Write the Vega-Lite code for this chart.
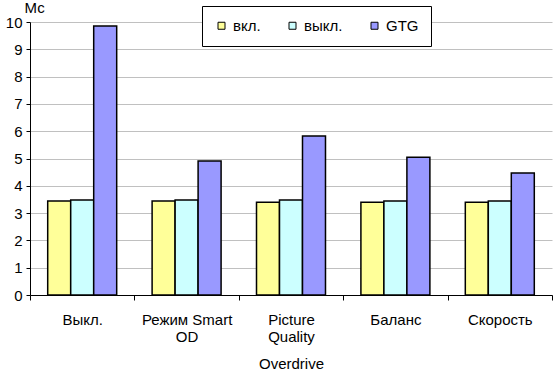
{
  "$schema": "https://vega.github.io/schema/vega-lite/v6.json",
  "width": 522,
  "height": 273,
  "autosize": {"type": "none"},
  "padding": {"left": 30, "top": 22, "right": 1, "bottom": 76},
  "background": "white",
  "config": {
    "font": "Liberation Sans",
    "view": {"stroke": null},
    "axis": {
      "labelFont": "Liberation Sans",
      "titleFont": "Liberation Sans",
      "labelFontSize": 15,
      "titleFontSize": 15,
      "titleFontWeight": "normal",
      "labelColor": "black",
      "titleColor": "black",
      "domainColor": "black",
      "tickColor": "black",
      "domainWidth": 1,
      "tickWidth": 1
    }
  },
  "data": {
    "values": [
      {"mode": "Выкл.", "series": "вкл.", "value": 3.44},
      {"mode": "Выкл.", "series": "выкл.", "value": 3.48},
      {"mode": "Выкл.", "series": "GTG", "value": 9.85},
      {"mode": "Режим Smart OD", "series": "вкл.", "value": 3.44},
      {"mode": "Режим Smart OD", "series": "выкл.", "value": 3.48},
      {"mode": "Режим Smart OD", "series": "GTG", "value": 4.91},
      {"mode": "Picture Quality", "series": "вкл.", "value": 3.40},
      {"mode": "Picture Quality", "series": "выкл.", "value": 3.48},
      {"mode": "Picture Quality", "series": "GTG", "value": 5.82},
      {"mode": "Баланс", "series": "вкл.", "value": 3.40},
      {"mode": "Баланс", "series": "выкл.", "value": 3.44},
      {"mode": "Баланс", "series": "GTG", "value": 5.05},
      {"mode": "Скорость", "series": "вкл.", "value": 3.40},
      {"mode": "Скорость", "series": "выкл.", "value": 3.44},
      {"mode": "Скорость", "series": "GTG", "value": 4.47}
    ]
  },
  "mark": {"type": "bar", "stroke": "black", "strokeWidth": 1.5},
  "encoding": {
    "x": {
      "field": "mode",
      "type": "nominal",
      "sort": null,
      "scale": {"paddingInner": 0, "paddingOuter": 0},
      "axis": {
        "title": "Overdrive",
        "titleBaseline": "alphabetic",
        "titleY": 73,
        "labelAngle": 0,
        "labelPadding": 12,
        "labelLineHeight": 17,
        "labelBaseline": "top",
        "tickBand": "extent",
        "tickSize": 5,
        "grid": false,
        "labelExpr": "datum.value == 'Режим Smart OD' ? ['Режим Smart', 'OD'] : datum.value == 'Picture Quality' ? ['Picture', 'Quality'] : datum.label"
      }
    },
    "xOffset": {
      "field": "series",
      "type": "nominal",
      "sort": ["вкл.", "выкл.", "GTG"],
      "scale": {"paddingInner": 0, "paddingOuter": 0.77}
    },
    "y": {
      "field": "value",
      "type": "quantitative",
      "scale": {"domain": [0, 10], "nice": false},
      "axis": {
        "title": "Мс",
        "titleAngle": 0,
        "titleAlign": "left",
        "titleBaseline": "alphabetic",
        "titleX": -6,
        "titleY": -10,
        "values": [0, 1, 2, 3, 4, 5, 6, 7, 8, 9, 10],
        "tickSize": 4,
        "labelPadding": 4,
        "grid": true,
        "gridColor": "#C0C0C0",
        "gridWidth": 1
      }
    },
    "fill": {
      "field": "series",
      "type": "nominal",
      "sort": ["вкл.", "выкл.", "GTG"],
      "scale": {"domain": ["вкл.", "выкл.", "GTG"], "range": ["#FFFF99", "#CCFFFF", "#9999FF"]},
      "legend": {
        "title": null,
        "orient": "none",
        "legendX": 172,
        "legendY": -16,
        "direction": "horizontal",
        "strokeColor": "black",
        "fillColor": "white",
        "padding": 12,
        "symbolType": "square",
        "symbolSize": 49,
        "symbolStrokeColor": "black",
        "symbolStrokeWidth": 1,
        "labelFont": "Liberation Sans",
        "labelFontSize": 15,
        "labelColor": "black",
        "labelOffset": 4,
        "columnPadding": 24
      }
    }
  }
}
